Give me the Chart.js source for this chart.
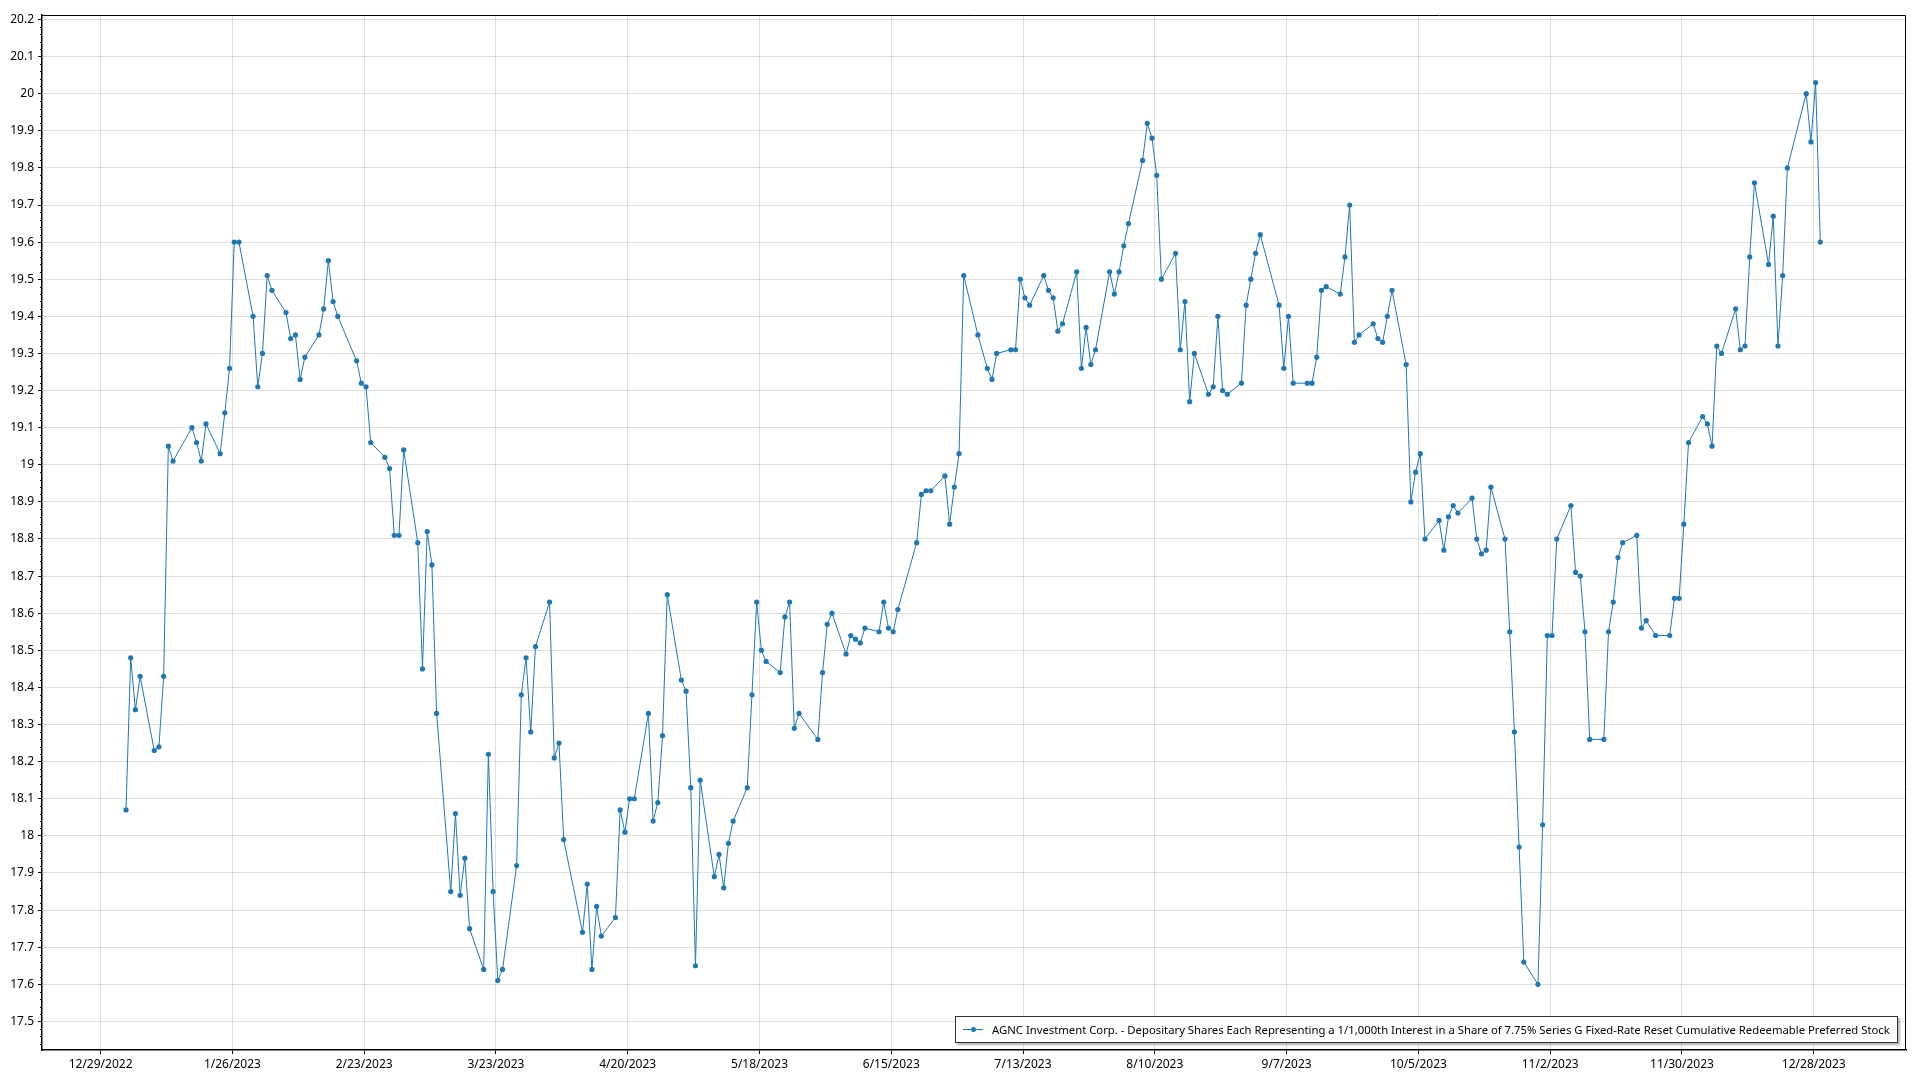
<!DOCTYPE html>
<html>
<head>
<meta charset="utf-8">
<script src="https://cdn.jsdelivr.net/npm/chart.js@4.4.1/dist/chart.umd.min.js"></script>
<style>
  html, body { margin: 0; padding: 0; background: #fff; }
  #wrap { position: relative; width: 1920px; height: 1080px; }
  #legend {
    position: absolute; left: 955px; top: 1016px; width: 943px; height: 27px;
    box-sizing: border-box; border: 1px solid #333; background: #fff;
    box-shadow: 2px 2px 2px rgba(0,0,0,0.3);
    display: flex; align-items: center; white-space: nowrap;
    font: 11.3px "Noto Sans", sans-serif; color: #000;
  }
  #legend .sym { position: relative; width: 20px; height: 10px; margin: 0 9px 0 7px; flex: none; }
  #legend .sym:before { content: ""; position: absolute; left: 0; right: 0; top: 4.5px; height: 1px; background: #1f77b4; }
  #legend .sym:after { content: ""; position: absolute; left: 7.5px; top: 2.5px; width: 5px; height: 5px; border-radius: 50%; background: #1f77b4; }
</style>
</head>
<body>
<div id="wrap">
  <canvas id="chart" width="1920" height="1080"></canvas>
  <div id="legend"><span class="sym"></span><span id="legendText"></span></div>
</div>
<script>
// closing prices, 2023 trading days
const year = 2023;
const quoteHour = 9.5; // quotes are stamped at the open
const tradeDates = [
  '1/3','1/4','1/5','1/6','1/9','1/10','1/11','1/12','1/13','1/17','1/18','1/19','1/20','1/23','1/24','1/25','1/26','1/27','1/30','1/31',
  '2/1','2/2','2/3','2/6','2/7','2/8','2/9','2/10','2/13','2/14','2/15','2/16','2/17','2/21','2/22','2/23','2/24','2/27','2/28',
  '3/1','3/2','3/3','3/6','3/7','3/8','3/9','3/10','3/13','3/14','3/15','3/16','3/17','3/20','3/21','3/22','3/23','3/24','3/27','3/28','3/29','3/30','3/31',
  '4/3','4/4','4/5','4/6','4/10','4/11','4/12','4/13','4/14','4/17','4/18','4/19','4/20','4/21','4/24','4/25','4/26','4/27','4/28',
  '5/1','5/2','5/3','5/4','5/5','5/8','5/9','5/10','5/11','5/12','5/15','5/16','5/17','5/18','5/19','5/22','5/23','5/24','5/25','5/26','5/30','5/31',
  '6/1','6/2','6/5','6/6','6/7','6/8','6/9','6/12','6/13','6/14','6/15','6/16','6/20','6/21','6/22','6/23','6/26','6/27','6/28','6/29','6/30',
  '7/3','7/5','7/6','7/7','7/10','7/11','7/12','7/13','7/14','7/17','7/18','7/19','7/20','7/21','7/24','7/25','7/26','7/27','7/28','7/31',
  '8/1','8/2','8/3','8/4','8/7','8/8','8/9','8/10','8/11','8/14','8/15','8/16','8/17','8/18','8/21','8/22','8/23','8/24','8/25','8/28','8/29','8/30','8/31',
  '9/1','9/5','9/6','9/7','9/8','9/11','9/12','9/13','9/14','9/15','9/18','9/19','9/20','9/21','9/22','9/25','9/26','9/27','9/28','9/29',
  '10/2','10/3','10/4','10/5','10/6','10/9','10/10','10/11','10/12','10/13','10/16','10/17','10/18','10/19','10/20','10/23','10/24','10/25','10/26','10/27','10/30','10/31',
  '11/1','11/2','11/3','11/6','11/7','11/8','11/9','11/10','11/13','11/14','11/15','11/16','11/17','11/20','11/21','11/22','11/24','11/27','11/28','11/29','11/30',
  '12/1','12/4','12/5','12/6','12/7','12/8','12/11','12/12','12/13','12/14','12/15','12/18','12/19','12/20','12/21','12/22','12/26','12/27','12/28','12/29'
];
const prices = [
  18.07,18.48,18.34,18.43,18.23,18.24,18.43,19.05,19.01,19.10,19.06,19.01,19.11,19.03,19.14,19.26,19.60,19.60,19.40,19.21,
  19.30,19.51,19.47,19.41,19.34,19.35,19.23,19.29,19.35,19.42,19.55,19.44,19.40,19.28,19.22,19.21,19.06,19.02,18.99,
  18.81,18.81,19.04,18.79,18.45,18.82,18.73,18.33,17.85,18.06,17.84,17.94,17.75,17.64,18.22,17.85,17.61,17.64,17.92,18.38,18.48,18.28,18.51,
  18.63,18.21,18.25,17.99,17.74,17.87,17.64,17.81,17.73,17.78,18.07,18.01,18.10,18.10,18.33,18.04,18.09,18.27,18.65,
  18.42,18.39,18.13,17.65,18.15,17.89,17.95,17.86,17.98,18.04,18.13,18.38,18.63,18.50,18.47,18.44,18.59,18.63,18.29,18.33,18.26,18.44,
  18.57,18.60,18.49,18.54,18.53,18.52,18.56,18.55,18.63,18.56,18.55,18.61,18.79,18.92,18.93,18.93,18.97,18.84,18.94,19.03,19.51,
  19.35,19.26,19.23,19.30,19.31,19.31,19.50,19.45,19.43,19.51,19.47,19.45,19.36,19.38,19.52,19.26,19.37,19.27,19.31,19.52,
  19.46,19.52,19.59,19.65,19.82,19.92,19.88,19.78,19.50,19.57,19.31,19.44,19.17,19.30,19.19,19.21,19.40,19.20,19.19,19.22,19.43,19.50,19.57,
  19.62,19.43,19.26,19.40,19.22,19.22,19.22,19.29,19.47,19.48,19.46,19.56,19.70,19.33,19.35,19.38,19.34,19.33,19.40,19.47,
  19.27,18.90,18.98,19.03,18.80,18.85,18.77,18.86,18.89,18.87,18.91,18.80,18.76,18.77,18.94,18.80,18.55,18.28,17.97,17.66,17.60,18.03,
  18.54,18.54,18.80,18.89,18.71,18.70,18.55,18.26,18.26,18.55,18.63,18.75,18.79,18.81,18.56,18.58,18.54,18.54,18.64,18.64,18.84,
  19.06,19.13,19.11,19.05,19.32,19.30,19.42,19.31,19.32,19.56,19.76,19.54,19.67,19.32,19.51,19.80,20.00,19.87,20.03,19.60
];
const xTickLabels = ['12/29/2022','1/26/2023','2/23/2023','3/23/2023','4/20/2023','5/18/2023','6/15/2023',
  '7/13/2023','8/10/2023','9/7/2023','10/5/2023','11/2/2023','11/30/2023','12/28/2023'];
const yTicks = [17.5,17.6,17.7,17.8,17.9,18,18.1,18.2,18.3,18.4,18.5,18.6,18.7,18.8,18.9,19,
  19.1,19.2,19.3,19.4,19.5,19.6,19.7,19.8,19.9,20,20.1,20.2];
const seriesName = 'AGNC Investment Corp. - Depositary Shares Each Representing a 1/1,000th Interest in a Share of 7.75% Series G Fixed-Rate Reset Cumulative Redeemable Preferred Stock';

const lineColor = '#1f77b4';
const gridColor = 'rgba(0,0,0,0.12)';
const axisFont = { family: '"Noto Sans", sans-serif', size: 12 };

// days since 12/29/2022 (first tick)
const origin = Date.UTC(2022, 11, 29);
function dayNum(m, d, y) {
  return (Date.UTC(y, m - 1, d) - origin) / 86400000;
}
function labelDay(s) {
  const p = s.split('/').map(Number);
  return dayNum(p[0], p[1], p[2]);
}

const points = tradeDates.map((s, i) => {
  const p = s.split('/').map(Number);
  return { x: dayNum(p[0], p[1], year) + quoteHour / 24, y: prices[i] };
});

document.getElementById('legendText').textContent = seriesName;

// top/right frame + minor ticks on the value axis
const framePlugin = {
  id: 'frame',
  afterDraw(chart) {
    const { ctx, chartArea: a, scales } = chart;
    ctx.save();
    ctx.strokeStyle = '#000';
    ctx.lineWidth = 1;
    ctx.beginPath();
    ctx.moveTo(a.left, a.top + 0.5);
    ctx.lineTo(a.right - 0.5, a.top + 0.5);
    ctx.lineTo(a.right - 0.5, a.bottom);
    ctx.stroke();
    const y = scales.y;
    ctx.beginPath();
    for (let k = 0; ; k++) {
      const v = 17.42 + k * 0.02;
      if (v > y.max) break;
      if (v < y.min) continue;
      if (Math.abs(v * 10 - Math.round(v * 10)) < 0.01) continue;
      const py = Math.round(y.getPixelForValue(v)) + 0.5;
      ctx.moveTo(a.left - 2, py);
      ctx.lineTo(a.left, py);
    }
    ctx.stroke();
    ctx.restore();
  }
};

new Chart(document.getElementById('chart').getContext('2d'), {
  type: 'line',
  data: {
    datasets: [{
      label: seriesName,
      data: points,
      borderColor: lineColor,
      backgroundColor: lineColor,
      borderWidth: 1,
      pointRadius: 2.6,
      pointBorderWidth: 0,
      pointHoverRadius: 2.6,
      tension: 0
    }]
  },
  options: {
    responsive: false,
    animation: false,
    layout: { padding: { top: 15, right: 14, left: 0, bottom: 0 } },
    plugins: { legend: { display: false }, tooltip: { enabled: false } },
    scales: {
      x: {
        type: 'linear',
        min: -12.45,
        max: 383.6,
        afterBuildTicks: s => { s.ticks = xTickLabels.map(l => ({ value: labelDay(l) })); },
        afterFit: s => { s.height = 30; },
        ticks: {
          autoSkip: false, maxRotation: 0, padding: 3, color: '#000', font: axisFont,
          callback: (v, i) => xTickLabels[i]
        },
        grid: { color: gridColor, tickColor: '#000', tickLength: 4 },
        border: { color: '#000', width: 1.5 }
      },
      y: {
        min: 17.423,
        max: 20.212,
        afterBuildTicks: s => { s.ticks = yTicks.map(v => ({ value: v })); },
        afterFit: s => { s.width = 42; },
        ticks: {
          autoSkip: false, padding: 4, color: '#000', font: axisFont,
          callback: v => String(Number(v.toFixed(1)))
        },
        grid: { color: gridColor, tickColor: '#000', tickLength: 4 },
        border: { color: '#000', width: 1.5 }
      }
    }
  },
  plugins: [framePlugin]
});
</script>
</body>
</html>
